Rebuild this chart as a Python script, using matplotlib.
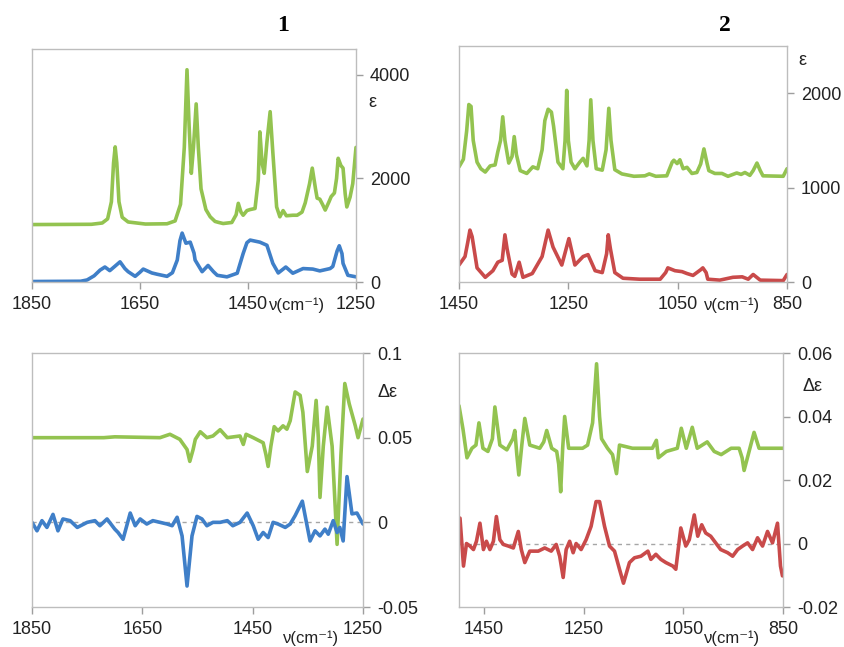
import matplotlib
matplotlib.use('Agg')
import matplotlib.pyplot as plt

plt.rcParams['font.family'] = ['Liberation Sans', 'DejaVu Sans']

verde = '#93C350'
azul = '#3F7FC8'
vermelho = '#C94A4A'
cinza = '#A6A6A6'

# painel 1, absorcao (eps)
nu_1_sup_verde = [1850, 1740, 1720, 1710, 1703, 1699, 1696, 1693, 1689, 1683, 1672, 1640, 1600, 1585,
                  1575, 1568, 1563, 1559, 1555, 1551, 1546, 1542, 1537, 1528, 1520, 1511, 1504, 1496,
                  1480, 1472, 1468, 1463, 1459, 1452, 1446, 1437, 1431, 1428, 1424, 1420, 1415, 1409,
                  1404, 1397, 1391, 1385, 1379, 1367, 1359, 1350, 1344, 1336, 1331, 1325, 1322, 1317,
                  1312, 1307, 1300, 1296, 1290, 1286, 1283, 1278, 1274, 1270, 1267, 1261, 1256, 1250]
eps_1_verde = [1110, 1115, 1140, 1220, 1550, 2300, 2610, 2300, 1550, 1250, 1160, 1120, 1125, 1180,
               1500, 2600, 4100, 3000, 2100, 2600, 3440, 2600, 1800, 1400, 1260, 1170, 1150, 1130,
               1150, 1300, 1520, 1350, 1290, 1380, 1400, 1420, 1970, 2900, 2300, 2100, 2700, 3290,
               2500, 1450, 1260, 1380, 1280, 1290, 1290, 1350, 1530, 1900, 2200, 1800, 1620, 1600,
               1500, 1390, 1550, 1650, 1720, 2000, 2390, 2250, 2200, 1700, 1450, 1640, 1900, 2600]

nu_1_sup_azul = [1850, 1760, 1748, 1735, 1724, 1715, 1706, 1697, 1687, 1678, 1672, 1659, 1650, 1644,
                 1628, 1618, 1600, 1590, 1581, 1576, 1572, 1565, 1557, 1550, 1548, 1535, 1524, 1514,
                 1507, 1489, 1470, 1459, 1452, 1446, 1428, 1415, 1404, 1394, 1380, 1367, 1348, 1330,
                 1317, 1298, 1293, 1285, 1281, 1276, 1274, 1265, 1250]
eps_1_azul = [10, 15, 40, 120, 230, 290, 220, 300, 390, 260, 200, 110, 190, 250,
              175, 150, 110, 180, 425, 800, 945, 750, 770, 560, 425, 200, 320, 200,
              130, 100, 170, 550, 760, 810, 770, 710, 360, 175, 290, 170, 260, 250,
              215, 260, 300, 600, 700, 550, 360, 130, 100]

# painel 2, absorcao (eps)
nu_2_sup_verde = [1450, 1442, 1436, 1432, 1428, 1424, 1417, 1410, 1402, 1393, 1384, 1379, 1374, 1370,
                  1366, 1359, 1353, 1349, 1345, 1338, 1326, 1315, 1306, 1298, 1293, 1287, 1281, 1277,
                  1269, 1260, 1256, 1253, 1250, 1245, 1238, 1229, 1223, 1216, 1212, 1209, 1205, 1199,
                  1188, 1181, 1176, 1172, 1165, 1152, 1130, 1110, 1102, 1090, 1070, 1060, 1057, 1051,
                  1046, 1040, 1033, 1024, 1015, 1008, 1002, 996, 993, 982, 969, 958, 942, 934,
                  927, 918, 912, 905, 899, 894, 857, 850]
eps_2_verde = [1220, 1300, 1600, 1880, 1860, 1500, 1270, 1200, 1165, 1230, 1240, 1380, 1500, 1750,
               1500, 1260, 1330, 1540, 1350, 1180, 1150, 1220, 1200, 1400, 1710, 1830, 1800, 1650,
               1270, 1200, 1500, 2030, 1500, 1270, 1200, 1270, 1310, 1230, 1500, 1930, 1500, 1200,
               1185, 1400, 1840, 1500, 1190, 1145, 1120, 1125, 1145, 1120, 1125, 1270, 1290, 1255,
               1295, 1200, 1215, 1150, 1160, 1250, 1410, 1250, 1180, 1150, 1150, 1120, 1155, 1140,
               1160, 1130, 1180, 1260, 1180, 1125, 1120, 1200]

nu_2_sup_vermelho = [1450, 1439, 1434, 1430, 1426, 1417, 1402, 1388, 1379, 1371, 1366, 1362, 1353, 1348,
                     1340, 1333, 1316, 1298, 1287, 1278, 1262, 1249, 1238, 1223, 1214, 1201, 1188, 1180,
                     1177, 1173, 1165, 1150, 1120, 1082, 1072, 1068, 1055, 1042, 1033, 1022, 1008, 1004,
                     998, 995, 973, 949, 932, 921, 912, 899, 857, 850]
eps_2_vermelho = [180, 270, 420, 550, 480, 150, 50, 120, 210, 230, 500, 350, 85, 60,
                  210, 50, 90, 270, 550, 370, 180, 460, 180, 270, 290, 120, 100, 300,
                  500, 350, 100, 40, 30, 30, 100, 150, 120, 110, 90, 70, 130, 150,
                  100, 30, 20, 50, 55, 30, 80, 20, 15, 80]

# painel 1, dicroismo (delta eps)
nu_1_inf_verde = [1850, 1720, 1700, 1618, 1600, 1582, 1569, 1564, 1558, 1554, 1545, 1533, 1522, 1509,
                  1496, 1473, 1467, 1462, 1449, 1431, 1426, 1422, 1417, 1411, 1404, 1395, 1388, 1382,
                  1373, 1364, 1359, 1351, 1342, 1335, 1331, 1328, 1322, 1315, 1306, 1297, 1290, 1283,
                  1275, 1264, 1259, 1250]
deps_1_verde = [0.050, 0.050, 0.0505, 0.050, 0.052, 0.049, 0.043, 0.036, 0.043, 0.049, 0.0535, 0.050, 0.051, 0.0547,
                0.050, 0.051, 0.046, 0.052, 0.050, 0.047, 0.040, 0.033, 0.045, 0.0565, 0.054, 0.057, 0.055, 0.060,
                0.077, 0.075, 0.065, 0.030, 0.045, 0.072, 0.050, 0.0147, 0.045, 0.068, 0.045, -0.013, 0.040, 0.082,
                0.070, 0.057, 0.050, 0.061]

nu_1_inf_azul = [1850, 1841, 1832, 1823, 1812, 1803, 1794, 1781, 1768, 1750, 1736, 1727, 1714, 1700,
                 1694, 1685, 1672, 1663, 1654, 1642, 1631, 1618, 1605, 1596, 1587, 1578, 1569, 1560,
                 1551, 1542, 1533, 1522, 1509, 1496, 1486, 1473, 1460, 1449, 1440, 1431, 1422, 1413,
                 1404, 1391, 1382, 1373, 1360, 1355, 1346, 1337, 1328, 1319, 1313, 1304, 1297, 1292,
                 1286, 1279, 1270, 1261, 1250]
deps_1_azul = [0.0, -0.005, 0.001, -0.003, 0.0047, -0.005, 0.002, 0.001, -0.003, 0.0, 0.001, -0.002, 0.002, -0.004,
               -0.006, -0.010, 0.0055, -0.002, 0.002, -0.001, 0.001, 0.0, -0.001, -0.002, 0.003, -0.008, -0.0376, -0.008,
               0.0035, 0.002, -0.002, 0.0, 0.0, 0.001, -0.002, 0.0, 0.0055, -0.002, -0.010, -0.006, -0.009, 0.0,
               -0.001, -0.003, -0.001, 0.004, 0.0125, 0.004, -0.011, -0.005, -0.008, -0.004, -0.007, 0.001, -0.006, -0.003,
               -0.011, 0.027, 0.005, 0.0055, -0.001]

# painel 2, dicroismo (delta eps)
nu_2_inf_verde = [1500, 1492, 1484, 1474, 1466, 1460, 1452, 1442, 1433, 1428, 1418, 1404, 1392, 1388,
                  1384, 1380, 1374, 1368, 1358, 1338, 1330, 1324, 1314, 1304, 1300, 1296, 1292, 1288,
                  1280, 1264, 1252, 1242, 1232, 1224, 1218, 1214, 1202, 1192, 1184, 1178, 1152, 1112,
                  1104, 1100, 1084, 1062, 1054, 1044, 1032, 1022, 1002, 988, 974, 954, 938, 932,
                  928, 918, 908, 898, 850]
deps_2_verde = [0.0434, 0.036, 0.027, 0.030, 0.031, 0.038, 0.030, 0.029, 0.033, 0.043, 0.031, 0.0295, 0.033, 0.0356,
                0.028, 0.0216, 0.031, 0.0394, 0.031, 0.030, 0.032, 0.0356, 0.030, 0.029, 0.025, 0.0163, 0.030, 0.040,
                0.030, 0.030, 0.030, 0.031, 0.038, 0.0566, 0.040, 0.033, 0.030, 0.028, 0.022, 0.031, 0.030, 0.030,
                0.0325, 0.027, 0.029, 0.030, 0.0363, 0.030, 0.0366, 0.030, 0.032, 0.029, 0.028, 0.030, 0.030, 0.027,
                0.023, 0.029, 0.035, 0.030, 0.030]

nu_2_inf_vermelho = [1498, 1491, 1485, 1478, 1471, 1465, 1458, 1451, 1445, 1438, 1431, 1425, 1418, 1411,
                     1401, 1391, 1381, 1375, 1368, 1358, 1341, 1328, 1315, 1305, 1298, 1291, 1285, 1278,
                     1271, 1265, 1255, 1245, 1235, 1225, 1218, 1208, 1198, 1188, 1178, 1170, 1158, 1148,
                     1135, 1121, 1115, 1105, 1095, 1085, 1071, 1065, 1055, 1045, 1038, 1028, 1021, 1013,
                     1005, 995, 985, 975, 961, 951, 941, 931, 921, 911, 901, 891, 881, 871,
                     861, 855, 851]
deps_2_vermelho = [0.008, -0.0071, 0.0, -0.0008, -0.0019, 0.0007, 0.0064, -0.0019, 0.0007, -0.0019, 0.0007, 0.0085, 0.0012, -0.0003,
                   -0.0008, -0.0014, 0.0038, -0.0019, -0.006, -0.0024, -0.0024, -0.0014, -0.0024, -0.0003, -0.004, -0.0107, -0.0019, 0.0007,
                   -0.0029, 0.0, -0.0019, 0.0012, 0.0054, 0.0132, 0.0132, 0.0054, -0.0008, -0.0024, -0.0081, -0.0125, -0.006, -0.0045,
                   -0.004, -0.0024, -0.005, -0.0034, -0.005, -0.006, -0.0071, -0.0081, 0.0049, -0.0008, 0.0012, 0.009, 0.0023, 0.0059,
                   0.0033, 0.0023, 0.0002, -0.0019, -0.0029, -0.004, -0.0019, -0.0008, 0.0002, -0.0019, 0.0018, -0.0008, 0.0038, 0.0002,
                   0.0064, -0.0071, -0.0102]

ticks_x_1 = [1850, 1650, 1450, 1250]
ticks_x_2 = [1450, 1250, 1050, 850]


def preparar_eixo(eixo, limites_x, limites_y, ticks_x, ticks_y, rotulos_y):
    eixo.set_xlim(*limites_x)
    eixo.set_ylim(*limites_y)
    eixo.set_xticks(ticks_x)
    eixo.set_yticks(ticks_y)
    eixo.set_yticklabels(rotulos_y)
    eixo.yaxis.tick_right()
    for lado in eixo.spines.values():
        lado.set_color('#BDBDBD')
        lado.set_linewidth(1.0)
    eixo.tick_params(axis='both', direction='out', length=5, width=1, color='#9E9E9E',
                     labelsize=13, labelcolor='#222222', pad=5)


def tracar(eixo, nu, valores, cor):
    eixo.plot(nu, valores, color=cor, lw=2.6, solid_joinstyle='round', solid_capstyle='round')


figura = plt.figure(figsize=(8.45, 6.47), dpi=100)
eixo_a = figura.add_axes([0.0379, 0.5641, 0.3834, 0.3601])
eixo_b = figura.add_axes([0.5432, 0.5641, 0.3882, 0.3648])
eixo_c = figura.add_axes([0.0379, 0.0618, 0.3917, 0.3926])
eixo_d = figura.add_axes([0.5432, 0.0618, 0.3834, 0.3926])

tracar(eixo_a, nu_1_sup_verde, eps_1_verde, verde)
tracar(eixo_a, nu_1_sup_azul, eps_1_azul, azul)
preparar_eixo(eixo_a, (1850, 1250), (0, 4500), ticks_x_1, [0, 2000, 4000], ['0', '2000', '4000'])

tracar(eixo_b, nu_2_sup_verde, eps_2_verde, verde)
tracar(eixo_b, nu_2_sup_vermelho, eps_2_vermelho, vermelho)
preparar_eixo(eixo_b, (1450, 850), (0, 2500), ticks_x_2, [0, 1000, 2000], ['0', '1000', '2000'])

eixo_c.axhline(0, color=cinza, lw=1, ls=(0, (3, 3)), zorder=1)
tracar(eixo_c, nu_1_inf_verde, deps_1_verde, verde)
tracar(eixo_c, nu_1_inf_azul, deps_1_azul, azul)
preparar_eixo(eixo_c, (1850, 1250), (-0.05, 0.1), ticks_x_1, [-0.05, 0, 0.05, 0.1],
              ['-0.05', '0', '0.05', '0.1'])

eixo_d.axhline(0, color=cinza, lw=1, ls=(0, (3, 3)), zorder=1)
tracar(eixo_d, nu_2_inf_verde, deps_2_verde, verde)
tracar(eixo_d, nu_2_inf_vermelho, deps_2_vermelho, vermelho)
preparar_eixo(eixo_d, (1500, 850), (-0.02, 0.06), ticks_x_2, [-0.02, 0, 0.02, 0.04, 0.06],
              ['-0.02', '0', '0.02', '0.04', '0.06'])

# titulos e rotulos dos eixos
titulo = dict(family='Liberation Serif', weight='bold', fontsize=17, ha='center', va='center')
figura.text(0.335, 0.961, '1', **titulo)
figura.text(0.858, 0.961, '2', **titulo)

rotulo = dict(fontsize=13, ha='center', va='center', color='#222222')
figura.text(0.441, 0.841, 'ε', **rotulo)
figura.text(0.950, 0.907, 'ε', **rotulo)
figura.text(0.459, 0.394, 'Δε', **rotulo)
figura.text(0.962, 0.402, 'Δε', **rotulo)
rotulo_nu = dict(fontsize=12, ha='center', va='center', color='#222222')
for x, y in [(0.352, 0.528), (0.866, 0.528), (0.368, 0.014), (0.866, 0.014)]:
    figura.text(x, y, 'ν(cm⁻¹)', **rotulo_nu)

figura.savefig('out.png', dpi=100)
